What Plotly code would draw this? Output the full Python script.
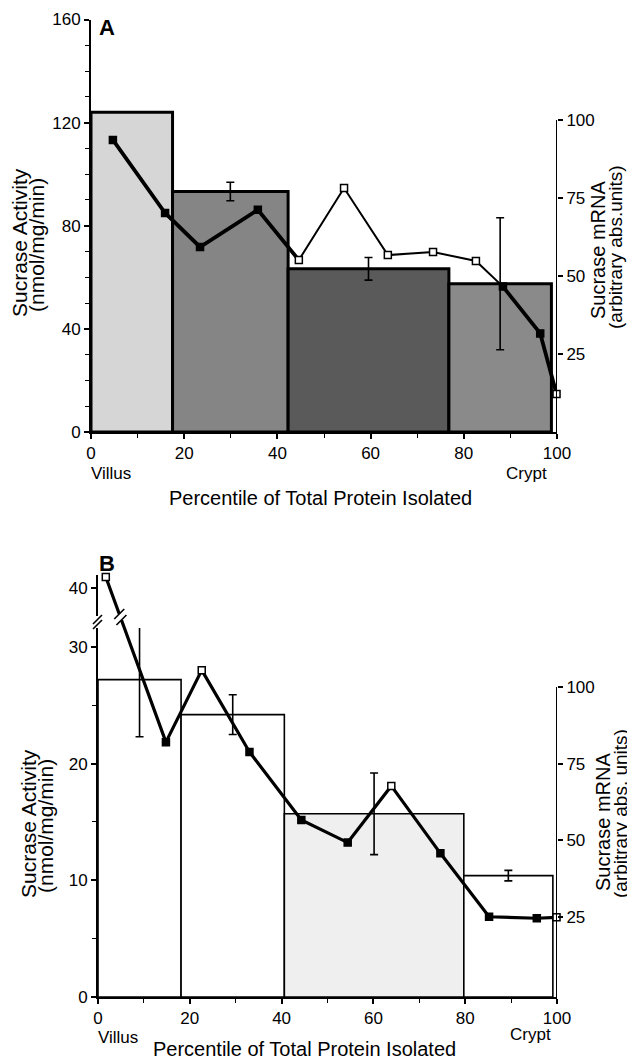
import plotly.graph_objects as go

# The page body has an 8 px margin, so the figure starts at (8, 8) in the window.
OFF = 8
W, H = 635 - OFF, 1059 - OFF


def px(x):
    return (x - OFF) / W


def py(y):
    return 1 - (y - OFF) / H


# ---------------- Data: panel A ----------------
a_edges = [0, 17.5, 42.3, 76.8, 98.8]
a_activity = [124.0, 93.3, 63.3, 57.5]
a_activity_err = [0.0, 3.6, 4.4, 25.6]
a_mrna_x = [4.7, 15.9, 23.4, 35.8, 44.6, 54.3, 63.7, 73.4, 82.6, 88.4, 96.4, 99.9]
a_mrna_y = [93.6, 70.2, 59.3, 71.2, 55.1, 78.2, 56.7, 57.7, 54.8, 46.6, 31.6, 12.2]

# ---------------- Data: panel B ----------------
b_edges = [0, 18.1, 40.6, 79.7, 99.1]
b_activity = [27.2, 24.2, 15.7, 10.4]
b_activity_err = [4.9, 1.7, 3.5, 0.45]
b_mrna_x = [1.7, 14.8, 22.6, 33.0, 44.3, 54.4, 63.9, 74.6, 85.2, 95.6, 99.9]
b_mrna_y = [135.9, 82.0, 105.5, 78.8, 56.6, 49.2, 67.7, 45.7, 25.0, 24.5, 24.8]

x_ticks = [0, 20, 40, 60, 80, 100]
a_left_ticks = [0, 40, 80, 120, 160]
b_left_ticks = [0, 10, 20, 30]
b_left_upper_ticks = [40]
right_ticks = [25, 50, 75, 100]

FONT = "Liberation Sans"

fig = go.Figure()


def add_bars(edges, heights, errs, xa, ya, fills, lw):
    centers = [(edges[i] + edges[i + 1]) / 2 for i in range(len(heights))]
    widths = [edges[i + 1] - edges[i] for i in range(len(heights))]
    fig.add_trace(go.Bar(
        x=centers, y=heights, width=widths, xaxis=xa, yaxis=ya,
        marker=dict(color=fills, line=dict(color="black", width=lw)),
        hoverinfo="skip",
    ))
    idx = [i for i, e in enumerate(errs) if e > 0]
    fig.add_trace(go.Scatter(
        x=[centers[i] for i in idx], y=[heights[i] for i in idx],
        xaxis=xa, yaxis=ya, mode="markers",
        marker=dict(size=1, color="black", opacity=0),
        error_y=dict(type="data", array=[errs[i] for i in idx], visible=True,
                     color="black", thickness=1.6, width=4),
        hoverinfo="skip",
    ))


def add_line(xs, ys, xa, ya, segments, open_idx, msize):
    for (i0, i1, w) in segments:
        fig.add_trace(go.Scatter(
            x=xs[i0:i1 + 1], y=ys[i0:i1 + 1], xaxis=xa, yaxis=ya,
            mode="lines", line=dict(color="black", width=w),
            hoverinfo="skip", cliponaxis=False,
        ))
    fig.add_trace(go.Scatter(
        x=xs, y=ys, xaxis=xa, yaxis=ya, mode="markers",
        marker=dict(symbol="square", size=msize,
                    color=["white" if i in open_idx else "black" for i in range(len(xs))],
                    line=dict(color="black", width=1.5)),
        hoverinfo="skip", cliponaxis=False,
    ))


# Panel A
add_bars(a_edges, a_activity, a_activity_err, "x", "y",
         ["#d6d6d6", "#858585", "#5a5a5a", "#8a8a8a"], 3)
add_line(a_mrna_x, a_mrna_y, "x", "y2",
         [(0, 4, 3.8), (4, 9, 2.0), (9, 11, 3.8)], {4, 5, 6, 7, 8, 11}, 7)

# Panel B
add_bars(b_edges, b_activity, b_activity_err, "x2", "y3",
         ["white", "white", "#efefef", "white"], 1.6)
add_line(b_mrna_x, b_mrna_y, "x2", "y4",
         [(0, 10, 3.2)], {0, 2, 6, 10}, 7)
# empty trace so the upper (broken) part of panel B's left axis is drawn
fig.add_trace(go.Scatter(x=[None], y=[None], xaxis="x2", yaxis="y5",
                         mode="markers", hoverinfo="skip"))

tickfont = dict(family=FONT, size=17, color="black")
common = dict(showgrid=False, zeroline=False, tickfont=tickfont, ticks="outside",
              tickcolor="black", tickwidth=1.5, ticklen=5, automargin=False)

xcommon = dict(common, range=[0, 100], tickmode="array", tickvals=x_ticks,
               showline=True, linecolor="black", linewidth=2,
               minor=dict(tickmode="linear", tick0=0, dtick=10, ticks="outside",
                          ticklen=4, tickcolor="black", tickwidth=1.2))

A_RIGHT_TOP = (432 - 19.5) / 3.12
B_R0 = (993.3 - 997) / 3.063
B_R1 = (993.3 - 575) / 3.063

fig.update_layout(
    width=W, height=H,
    margin=dict(l=0, r=0, t=0, b=0, autoexpand=False),
    paper_bgcolor="white", plot_bgcolor="rgba(0,0,0,0)",
    showlegend=False, barmode="overlay",
    xaxis=dict(xcommon, domain=[px(91), px(557)], anchor="y"),
    yaxis=dict(common, domain=[py(432), py(19.5)], range=[0, 160], anchor="x",
               tickmode="array", tickvals=a_left_ticks,
               showline=True, linecolor="black", linewidth=2,
               minor=dict(tickmode="linear", tick0=0, dtick=10, ticks="outside",
                          ticklen=4, tickcolor="black", tickwidth=1.2)),
    yaxis2=dict(common, overlaying="y", side="right", anchor="x",
                range=[0, A_RIGHT_TOP], tickmode="array", tickvals=right_ticks,
                showline=False),
    xaxis2=dict(xcommon, domain=[px(98), px(557)], anchor="y3"),
    yaxis3=dict(common, domain=[py(997), py(628)], range=[0, (997 - 628) / 11.67],
                anchor="x2", tickmode="array", tickvals=b_left_ticks,
                showline=True, linecolor="black", linewidth=2,
                minor=dict(tickmode="linear", tick0=0, dtick=5, ticks="outside",
                           ticklen=4, tickcolor="black", tickwidth=1.2)),
    yaxis4=dict(common, domain=[py(997), py(575)], range=[B_R0, B_R1],
                anchor="x2", side="right", tickmode="array", tickvals=right_ticks,
                showline=False),
    yaxis5=dict(common, domain=[py(616), py(575)],
                range=[40 - (616 - 588) / 11.67, 40 + (588 - 575) / 11.67],
                anchor="x2", tickmode="array", tickvals=b_left_upper_ticks,
                showline=True, linecolor="black", linewidth=2),
)

shapes = []
# right axis lines (0..100 only)
shapes.append(dict(type="line", xref="x", yref="y2", x0=100, x1=100, y0=0, y1=100,
                   line=dict(color="black", width=2)))
shapes.append(dict(type="line", xref="x2", yref="y4", x0=100, x1=100, y0=B_R0, y1=100,
                   line=dict(color="black", width=2)))
# left axis break marks in panel B
for off in (0, 5):
    shapes.append(dict(type="line", xref="paper", yref="paper",
                       x0=px(93), x1=px(102), y0=py(629 - off), y1=py(620 - off),
                       line=dict(color="black", width=1.6)))
# line break marks in panel B (first segment)
t = 0.242
bx = b_mrna_x[0] + t * (b_mrna_x[1] - b_mrna_x[0])
byv = b_mrna_y[0] + t * (b_mrna_y[1] - b_mrna_y[0])
shapes.append(dict(type="line", xref="x2", yref="y4", xsizemode="pixel", ysizemode="pixel",
                   xanchor=bx, yanchor=byv, x0=-1.2, x1=1.2, y0=3.3, y1=-3.3,
                   line=dict(color="white", width=7)))
for cx, cy in ((-1.1, 3.0), (1.1, -3.0)):
    shapes.append(dict(type="line", xref="x2", yref="y4", xsizemode="pixel", ysizemode="pixel",
                       xanchor=bx, yanchor=byv, x0=cx - 5, x1=cx + 5, y0=cy - 5, y1=cy + 5,
                       line=dict(color="black", width=1.6)))
fig.update_layout(shapes=shapes)


def ann(text, x, y, size=20, angle=0, bold=False):
    fig.add_annotation(text=("<b>%s</b>" % text) if bold else text,
                       xref="paper", yref="paper", x=px(x), y=py(y),
                       xanchor="center", yanchor="middle", showarrow=False,
                       textangle=angle, font=dict(family=FONT, size=size, color="black"))


# Panel A texts
ann("A", 107, 28, size=22, bold=True)
ann("Sucrase Activity", 20, 243, size=21, angle=-90)
ann("(nmol/mg/min)", 37, 245, size=21, angle=-90)
ann("Sucrase mRNA", 598, 250, size=20, angle=-90)
ann("(arbitrary abs.units)", 616, 247, size=19, angle=-90)
ann("Villus", 111, 473, size=17)
ann("Crypt", 526, 474, size=17)
ann("Percentile of Total Protein Isolated", 320, 498)

# Panel B texts
ann("B", 107, 563, size=22, bold=True)
ann("Sucrase Activity", 28, 824, size=21, angle=-90)
ann("(nmol/mg/min)", 45, 826, size=21, angle=-90)
ann("Sucrase mRNA", 603, 822, size=20, angle=-90)
ann("(arbitrary abs. units)", 620, 814, size=19, angle=-90)
ann("Villus", 118, 1037, size=17)
ann("Crypt", 530, 1034, size=17)
ann("Percentile of Total Protein Isolated", 304, 1049)

fig.write_html("out.html")
